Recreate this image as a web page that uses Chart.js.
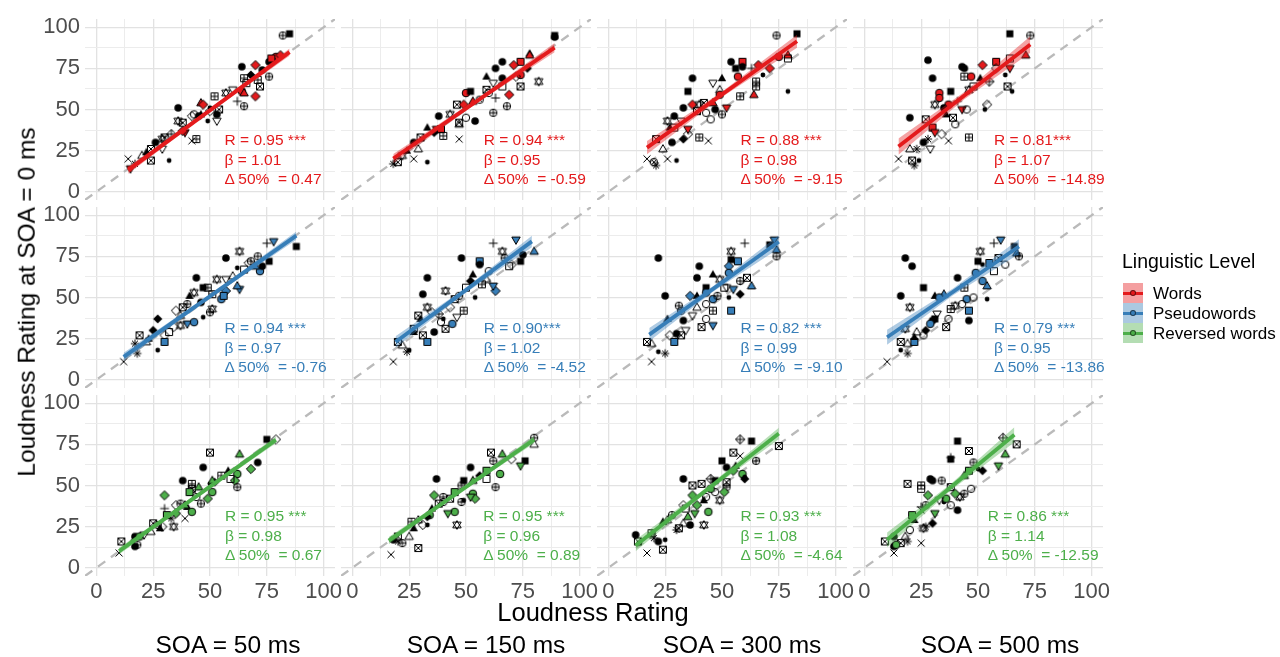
<!DOCTYPE html>
<html>
<head>
<meta charset="utf-8">
<script src="https://cdn.jsdelivr.net/npm/chart.js@4.4.1/dist/chart.umd.min.js"></script>
<style>
  body { margin: 0; width: 1280px; height: 657px; position: relative; overflow: hidden; background: #fff;
         font-family: 'Liberation Sans', Arial, Helvetica, sans-serif; }
  canvas { position: absolute; }
  .txt { position: absolute; white-space: pre; line-height: 1; }
  .key { position: absolute; width: 20px; height: 20px; }
  .key .ln { position: absolute; left: 0; right: 0; top: 9px; height: 2.5px; }
  .key .dot { position: absolute; left: 7px; top: 7px; width: 6px; height: 6px; border-radius: 50%;
              box-sizing: border-box; border: 1px solid rgba(0,0,0,0.55); }
</style>
</head>
<body>
<script>
// ---- facets ----
const soaLabels = ['SOA = 50 ms', 'SOA = 150 ms', 'SOA = 300 ms', 'SOA = 500 ms'];
const levelNames = ['Words', 'Pseudowords', 'Reversed words'];
const levelColors = [[228, 26, 28], [55, 126, 184], [77, 175, 74]];
const axisTicks = [0, 12.5, 25, 37.5, 50, 62.5, 75, 87.5, 100];

// ---- ratings: [rating at SOA, rating at SOA = 0, marker] ----
// markers: c/sc/s/t/d = solid black, C/S/D/T/V = filled with level colour,
// oc/os/ot/od/ov = open, p/x/a = plus/cross/asterisk, sx/sp/cp/cx/dp/st = combined
const words50 = [[82,95,'cp'],[85,96,'s'],[79,82,'C'],[81,83,'D'],[76,79,'c'],[78,80,'sc'],[77,81,'S'],[64,76,'c'],[70,77,'D'],[73,74,'c'],[76,70,'cp'],[65,69,'sp'],[71,68,'sp'],[72,64,'sx'],[68,71,'d'],[70,58,'D'],[64,61,'C'],[65,60,'T'],[66,66,'os'],[52,58,'sp'],[62,55,'p'],[65,52,'cp'],[46,54,'T'],[47,53,'D'],[50,51,'sc'],[54,50,'sx'],[50,49,'od'],[53,47,'c'],[36,51,'c'],[36,43,'st'],[42,46,'od'],[38,42,'sx'],[53,43,'ov'],[49,43,'sc'],[45,46,'c'],[43,47,'oc'],[46,47,'t'],[39,36,'V'],[38,37,'D'],[44,32,'sp'],[42,31,'x'],[26,30,'c'],[30,33,'sx'],[29,32,'st'],[29,26,'ov'],[24,26,'sx'],[24,19,'sx'],[14,20,'x'],[32,19,'sc'],[15,14,'V'],[17,17,'a'],[20,22,'ot'],[22,24,'t'],[33,35,'dp'],[57,60,'st'],[60,62,'ov']];
const words150 = [[89,95,'s'],[89,94,'c'],[78,84,'t'],[78,83,'T'],[74,79,'S'],[71,77,'D'],[66,79,'c'],[63,75,'c'],[66,69,'c'],[74,71,'C'],[82,67,'st'],[74,64,'sx'],[59,70,'t'],[62,66,'ov'],[59,62,'sx'],[63,57,'p'],[68,52,'cp'],[62,48,'cp'],[69,59,'D'],[50,60,'C'],[52,61,'s'],[46,53,'sx'],[49,53,'D'],[53,55,'T'],[54,43,'c'],[50,45,'oc'],[47,42,'sx'],[38,46,'c'],[33,39,'t'],[37,38,'V'],[39,38,'S'],[40,34,'sp'],[47,32,'x'],[27,30,'c'],[30,33,'sx'],[29,26,'ot'],[27,20,'x'],[33,18,'sc'],[18,17,'a'],[20,18,'sx'],[77,75,'d'],[72,70,'od'],[43,47,'st'],[47,41,'ot'],[66,64,'os'],[56,56,'cx'],[60,60,'oc'],[36,36,'d'],[24,25,'t'],[22,22,'st']];
const words300 = [[74,95,'cp'],[83,96,'s'],[79,83,'T'],[79,81,'os'],[75,82,'C'],[54,79,'c'],[59,79,'S'],[56,75,'s'],[59,76,'c'],[57,70,'C'],[63,75,'p'],[66,77,'D'],[71,75,'D'],[68,71,'sc'],[65,67,'sp'],[65,64,'sp'],[37,69,'c'],[50,69,'t'],[46,66,'ov'],[49,62,'ot'],[49,59,'C'],[35,61,'s'],[79,61,'sc'],[64,59,'T'],[58,58,'sp'],[37,53,'D'],[33,51,'c'],[46,54,'T'],[42,54,'sx'],[52,51,'V'],[47,50,'c'],[40,53,'st'],[50,47,'cp'],[45,44,'oc'],[39,49,'sx'],[35,35,'od'],[29,46,'c'],[26,43,'st'],[27,39,'t'],[35,38,'V'],[40,33,'sp'],[44,31,'x'],[21,32,'sx'],[28,30,'c'],[24,26,'ot'],[17,20,'x'],[26,20,'x'],[20,18,'cx'],[30,19,'sc'],[21,16,'a'],[32,43,'ov'],[33,32,'d'],[29,39,'os'],[43,48,'oc']];
const words500 = [[64,96,'s'],[73,95,'cp'],[28,80,'c'],[30,69,'c'],[43,76,'c'],[44,75,'c'],[44,70,'sp'],[52,77,'D'],[58,79,'S'],[64,81,'os'],[71,83,'T'],[64,75,'V'],[58,75,'od'],[62,71,'sc'],[47,70,'C'],[51,69,'t'],[38,61,'s'],[33,60,'C'],[33,57,'C'],[46,62,'st'],[63,64,'sx'],[65,61,'sc'],[31,53,'st'],[37,53,'C'],[35,51,'c'],[43,50,'V'],[54,53,'od'],[53,50,'sc'],[45,50,'oc'],[39,45,'sx'],[40,41,'oc'],[20,45,'c'],[27,44,'sx'],[30,39,'S'],[31,36,'V'],[34,35,'od'],[37,31,'x'],[46,33,'sp'],[26,30,'c'],[28,32,'a'],[29,26,'ov'],[23,26,'a'],[20,26,'ot'],[15,20,'x'],[21,19,'sx'],[22,16,'a'],[24,19,'sc'],[48,64,'os'],[41,55,'p'],[36,47,'t'],[55,67,'dp']];

const pseudo50 = [[88,81,'s'],[78,84,'V'],[75,83,'p'],[63,78,'st'],[57,74,'c'],[68,72,'cp'],[71,75,'cp'],[67,71,'od'],[76,72,'s'],[72,66,'C'],[73,69,'c'],[70,69,'T'],[62,68,'sc'],[65,67,'os'],[44,62,'c'],[53,61,'st'],[57,61,'ov'],[47,56,'s'],[49,56,'sp'],[63,55,'V'],[62,57,'T'],[57,54,'D'],[55,49,'C'],[56,51,'S'],[41,51,'t'],[43,53,'st'],[51,52,'sp'],[50,41,'cp'],[51,43,'st'],[47,38,'sc'],[35,42,'od'],[38,44,'sx'],[27,37,'d'],[40,34,'V'],[43,35,'C'],[37,33,'st'],[37,39,'ot'],[30,27,'od'],[25,30,'d'],[30,23,'S'],[19,27,'sx'],[18,16,'a'],[27,18,'sc'],[12,11,'x'],[22,23,'ot'],[17,22,'a'],[34,32,'od'],[40,46,'cp'],[23,25,'t'],[32,29,'os'],[46,47,'c'],[60,63,'ot']];
const pseudo150 = [[62,83,'p'],[72,85,'V'],[66,78,'st'],[56,72,'S'],[56,70,'c'],[48,74,'c'],[74,72,'s'],[80,78,'T'],[67,74,'cp'],[69,69,'os'],[33,62,'c'],[41,54,'st'],[53,64,'t'],[50,56,'os'],[63,54,'D'],[62,57,'V'],[31,52,'c'],[54,50,'sc'],[45,49,'sx'],[33,44,'st'],[29,39,'sx'],[35,41,'od'],[43,44,'od'],[49,42,'sp'],[46,38,'ov'],[40,37,'sc'],[41,31,'sx'],[44,34,'C'],[30,37,'t'],[27,31,'sx'],[36,29,'c'],[31,27,'sx'],[33,23,'S'],[20,23,'sx'],[24,17,'a'],[25,18,'sc'],[18,11,'x'],[22,21,'ot'],[47,51,'cp'],[39,35,'oc'],[27,29,'t'],[59,61,'ot'],[52,60,'d'],[57,58,'sp'],[70,70,'od'],[38,40,'dp'],[75,76,'c'],[60,66,'oc']];
const pseudo300 = [[60,83,'p'],[73,85,'V'],[71,82,'s'],[74,79,'T'],[74,75,'cp'],[54,78,'st'],[54,73,'s'],[57,72,'S'],[22,74,'c'],[53,69,'D'],[53,65,'C'],[40,69,'c'],[39,62,'c'],[46,64,'t'],[49,61,'st'],[52,56,'ov'],[58,60,'cp'],[63,57,'T'],[55,55,'V'],[25,51,'c'],[43,56,'s'],[36,51,'D'],[39,51,'t'],[43,53,'C'],[46,49,'C'],[48,51,'cp'],[43,46,'oc'],[53,50,'sc'],[46,42,'sp'],[54,42,'S'],[31,45,'cp'],[32,42,'cp'],[26,37,'t'],[33,36,'c'],[37,39,'ov'],[43,37,'oc'],[46,33,'V'],[41,32,'sx'],[27,27,'od'],[30,28,'c'],[29,23,'S'],[19,22,'ot'],[25,16,'a'],[19,11,'x'],[17,23,'sx'],[32,27,'sx'],[22,17,'sc'],[34,30,'ov'],[51,56,'os'],[58,52,'d'],[39,44,'ot'],[61,62,'sx']];
const pseudo500 = [[57,83,'p'],[60,85,'V'],[66,81,'s'],[67,77,'T'],[68,75,'cp'],[51,78,'st'],[59,74,'sx'],[18,74,'c'],[21,69,'c'],[50,72,'s'],[52,70,'sc'],[55,71,'S'],[49,65,'C'],[26,56,'s'],[41,62,'c'],[54,57,'T'],[52,60,'C'],[16,51,'c'],[31,51,'t'],[35,52,'T'],[33,50,'C'],[44,56,'sp'],[45,49,'C'],[43,46,'oc'],[48,50,'oc'],[54,49,'sc'],[20,44,'st'],[38,43,'sp'],[46,42,'S'],[46,36,'c'],[37,37,'oc'],[31,37,'s'],[30,36,'c'],[18,31,'st'],[36,32,'sx'],[29,34,'C'],[23,29,'ot'],[22,23,'S'],[26,27,'oc'],[19,22,'ot'],[16,18,'sc'],[19,16,'a'],[10,11,'x'],[16,23,'sx'],[22,26,'t'],[32,40,'ov'],[40,45,'st'],[27,30,'d'],[57,66,'os'],[62,70,'oc']];

const reversed50 = [[75,78,'s'],[79,78,'od'],[71,64,'c'],[63,69,'T'],[50,70,'sx'],[47,61,'c'],[62,57,'C'],[61,53,'D'],[62,49,'cp'],[59,54,'os'],[38,53,'c'],[42,51,'sp'],[42,48,'sx'],[41,46,'S'],[30,44,'D'],[50,51,'sc'],[52,52,'d'],[51,53,'T'],[51,46,'C'],[49,42,'D'],[37,39,'cp'],[35,38,'od'],[46,39,'cp'],[40,37,'t'],[39,38,'T'],[30,36,'p'],[31,32,'S'],[42,34,'C'],[35,33,'D'],[39,30,'x'],[34,25,'st'],[29,25,'od'],[28,24,'t'],[11,16,'sx'],[17,19,'c'],[17,13,'c'],[18,14,'cp'],[24,22,'ot'],[10,9,'x'],[19,19,'C'],[16,16,'sc'],[27,26,'oc'],[45,49,'T'],[68,60,'D'],[55,56,'sp'],[21,20,'ov'],[25,27,'sx'],[58,59,'t'],[44,43,'oc'],[33,30,'a']];
const reversed150 = [[80,79,'cp'],[80,75,'ot'],[61,70,'sx'],[62,65,'cp'],[66,69,'T'],[76,65,'s'],[74,62,'V'],[59,59,'S'],[65,57,'C'],[52,61,'c'],[63,49,'cp'],[37,54,'c'],[49,53,'s'],[48,50,'cp'],[45,46,'S'],[53,53,'T'],[36,44,'D'],[43,42,'sx'],[53,45,'C'],[54,42,'D'],[52,43,'V'],[49,41,'sc'],[48,40,'cp'],[45,34,'C'],[42,33,'V'],[38,39,'sx'],[35,36,'t'],[46,26,'st'],[26,28,'sp'],[29,29,'ot'],[31,26,'od'],[33,26,'sc'],[29,12,'sx'],[18,17,'c'],[22,15,'cp'],[17,8,'x'],[20,19,'sx'],[25,19,'ot'],[34,32,'C'],[33,31,'d'],[40,43,'cp'],[59,54,'os'],[56,56,'d'],[70,66,'od'],[20,16,'a'],[27,24,'t'],[40,40,'oc']];
const reversed300 = [[58,78,'dp'],[63,77,'s'],[75,74,'sx'],[55,70,'sx'],[58,68,'x'],[50,65,'s'],[52,61,'c'],[55,59,'D'],[65,65,'cp'],[59,57,'C'],[60,55,'sc'],[33,54,'c'],[37,50,'sx'],[41,51,'sx'],[45,54,'dp'],[47,53,'s'],[52,49,'cp'],[52,52,'sx'],[37,44,'D'],[43,43,'oc'],[51,46,'D'],[33,38,'od'],[38,33,'V'],[44,34,'C'],[49,41,'st'],[42,41,'t'],[42,26,'st'],[36,26,'c'],[33,27,'ot'],[30,23,'a'],[31,24,'sx'],[26,29,'ot'],[24,28,'t'],[19,21,'sp'],[12,20,'c'],[13,16,'sx'],[22,16,'c'],[25,17,'sc'],[24,11,'sx'],[17,9,'x'],[35,31,'T'],[60,54,'d'],[34,36,'os'],[39,38,'D'],[47,46,'oc'],[28,32,'cp'],[20,18,'a'],[56,62,'t'],[45,48,'C']];
const reversed500 = [[41,77,'s'],[61,79,'dp'],[67,75,'sx'],[62,69,'T'],[59,62,'V'],[38,67,'p'],[38,66,'s'],[46,71,'sx'],[48,64,'cp'],[29,54,'c'],[30,53,'c'],[34,53,'cp'],[19,51,'sx'],[25,50,'sp'],[25,48,'os'],[46,59,'S'],[50,60,'sc'],[28,44,'D'],[42,43,'st'],[38,49,'sx'],[47,48,'oc'],[40,45,'D'],[38,38,'oc'],[41,35,'c'],[31,33,'V'],[27,38,'cp'],[35,40,'sc'],[25,37,'p'],[25,35,'x'],[21,32,'S'],[22,29,'t'],[27,25,'a'],[26,24,'st'],[30,27,'d'],[25,15,'x'],[9,16,'sx'],[13,19,'c'],[13,13,'c'],[16,15,'sx'],[13,9,'x'],[19,16,'a'],[18,19,'ot'],[14,14,'C'],[44,56,'T'],[36,42,'C'],[33,41,'ov'],[44,45,'cp'],[20,23,'oc'],[52,59,'d']];

const panelPoints = [
  [words50, words150, words300, words500],
  [pseudo50, pseudo150, pseudo300, pseudo500],
  [reversed50, reversed150, reversed300, reversed500]
];

// ---- fit statistics per facet (rows = level, cols = SOA) ----
const rTexts = [['0.95 ***', '0.94 ***', '0.88 ***', '0.81***'],
                ['0.94 ***', '0.90***', '0.82 ***', '0.79 ***'],
                ['0.95 ***', '0.95 ***', '0.93 ***', '0.86 ***']];
const betas = [[1.01, 0.95, 0.98, 1.07], [0.97, 1.02, 0.99, 0.95], [0.98, 0.96, 1.08, 1.14]];
const deltas = [[0.47, -0.59, -9.15, -14.89], [-0.76, -4.52, -9.10, -13.86], [0.67, 0.89, -4.64, -12.59]];
const fitRanges = [[[14, 85], [18, 89], [17, 83], [15, 73]],
                   [[12, 88], [19, 79], [18, 75], [10, 68]],
                   [[10, 79], [16, 80], [12, 75], [10, 66]]];
// confidence band half-width: [at the ends, at the centre]
const bandHalf = [[[2.2, 1.0], [2.8, 1.2], [4.0, 1.6], [5.0, 2.2]],
                  [[2.5, 1.0], [3.5, 1.5], [4.0, 1.7], [4.5, 2.0]],
                  [[2.0, 0.9], [2.2, 1.0], [3.5, 1.4], [4.5, 2.0]]];
const statX = [[56.4, 57.8, 58.1, 57.0], [56.4, 57.8, 58.1, 57.0], [56.6, 57.6, 58.1, 54.3]];
const statY = [31.5, 19.5, 7.8];

// ---- layout (px) ----
const PANEL_W = 250, PANEL_H = 181, COL_STEP = 256, ROW_STEP = 188, LEFT0 = 85, TOP0 = 19;
const MARGIN = 20, Y_ROOM = 60, X_ROOM = 40;
const FONT = "'Liberation Sans', Arial, Helvetica, sans-serif";

function rgba(rgb, a) { return 'rgba(' + rgb[0] + ',' + rgb[1] + ',' + rgb[2] + ',' + a + ')'; }

// marker sprites, cached by code + colour
const spriteCache = {};
function sprite(code, rgb) {
  const key = code + rgb.join(',');
  if (spriteCache[key]) return spriteCache[key];
  const cv = document.createElement('canvas');
  cv.width = cv.height = 16;
  const g = cv.getContext('2d');
  g.translate(8, 8);
  g.lineWidth = 1;
  g.strokeStyle = '#000';
  g.fillStyle = '#000';
  const circle = (r) => { g.beginPath(); g.arc(0, 0, r, 0, Math.PI * 2); };
  const square = () => { g.beginPath(); g.rect(-3.5, -3.5, 7, 7); };
  const up = () => { g.beginPath(); g.moveTo(0, -4.4); g.lineTo(4.2, 2.9); g.lineTo(-4.2, 2.9); g.closePath(); };
  const down = () => { g.beginPath(); g.moveTo(0, 4.4); g.lineTo(4.2, -2.9); g.lineTo(-4.2, -2.9); g.closePath(); };
  const diamond = () => { g.beginPath(); g.moveTo(0, -4.6); g.lineTo(4.6, 0); g.lineTo(0, 4.6); g.lineTo(-4.6, 0); g.closePath(); };
  const plus = (r) => { g.beginPath(); g.moveTo(-r, 0); g.lineTo(r, 0); g.moveTo(0, -r); g.lineTo(0, r); g.stroke(); };
  const cross = (r) => { g.beginPath(); g.moveTo(-r, -r); g.lineTo(r, r); g.moveTo(-r, r); g.lineTo(r, -r); g.stroke(); };
  const filled = (fn) => { fn(); g.fillStyle = rgba(rgb, 1); g.fill(); g.stroke(); };
  switch (code) {
    case 'c': circle(3.8); g.fill(); break;
    case 'sc': circle(2.4); g.fill(); break;
    case 's': square(); g.fill(); break;
    case 't': up(); g.fill(); break;
    case 'd': diamond(); g.fill(); break;
    case 'C': filled(() => circle(3.8)); break;
    case 'S': filled(square); break;
    case 'D': filled(diamond); break;
    case 'T': filled(up); break;
    case 'V': filled(down); break;
    case 'oc': circle(3.7); g.stroke(); break;
    case 'os': square(); g.stroke(); break;
    case 'ot': up(); g.stroke(); break;
    case 'od': diamond(); g.stroke(); break;
    case 'ov': down(); g.stroke(); break;
    case 'p': plus(4.4); break;
    case 'x': cross(3.5); break;
    case 'a': plus(4.2); cross(3); break;
    case 'sx': square(); g.stroke(); cross(3.5); break;
    case 'sp': square(); g.stroke(); plus(3.5); break;
    case 'cp': circle(3.7); g.stroke(); plus(3.7); break;
    case 'cx': circle(3.7); g.stroke(); cross(2.6); break;
    case 'dp': diamond(); g.stroke(); plus(4.6); break;
    case 'st': up(); g.stroke(); down(); g.stroke(); break;
  }
  spriteCache[key] = cv;
  return cv;
}

function addText(str, left, top, size, color, extra) {
  const el = document.createElement('div');
  el.className = 'txt';
  el.textContent = str;
  el.style.left = left + 'px';
  el.style.top = top + 'px';
  el.style.fontSize = size + 'px';
  el.style.color = color;
  if (extra) Object.assign(el.style, extra);
  document.body.appendChild(el);
  return el;
}

const isMajor = (ctx) => ctx.tick && ctx.tick.value % 25 === 0;
const gridOpts = {
  color: (ctx) => isMajor(ctx) ? '#e2e2e2' : '#ececec',
  lineWidth: (ctx) => isMajor(ctx) ? 1.3 : 1,
  drawTicks: false
};

function buildPanel(r, c) {
  const rgb = levelColors[r];
  const beta = betas[r][c], delta = deltas[r][c];
  const [x1, x2] = fitRanges[r][c];
  const [endHalf, midHalf] = bandHalf[r][c];
  const fit = (x) => 50 - delta + beta * (x - 50);
  const bandX = [x1, (x1 + x2) / 2, x2];
  const bandW = [endHalf, midHalf, endHalf];

  const yRoom = c === 0 ? Y_ROOM : 0;
  const xRoom = r === 2 ? X_ROOM : 0;
  const cv = document.createElement('canvas');
  const left = LEFT0 + c * COL_STEP - MARGIN - yRoom;
  const top = TOP0 + r * ROW_STEP - MARGIN;
  cv.width = PANEL_W + 2 * MARGIN + yRoom;
  cv.height = PANEL_H + 2 * MARGIN + xRoom;
  cv.style.left = left + 'px';
  cv.style.top = top + 'px';
  document.body.appendChild(cv);

  const tickFont = { family: FONT, size: 22 };
  const chart = new Chart(cv, {
    type: 'scatter',
    data: {
      datasets: [
        { // fitted line
          data: [{ x: x1, y: fit(x1) }, { x: x2, y: fit(x2) }],
          showLine: true, borderColor: rgba(rgb, 1), borderWidth: 3.8, pointRadius: 0, order: 0
        },
        { // band upper edge, filled down to the next dataset
          data: bandX.map((x, i) => ({ x: x, y: fit(x) + bandW[i] })),
          showLine: true, borderWidth: 0, pointRadius: 0, fill: '+1',
          backgroundColor: rgba(rgb, 0.4), order: 1
        },
        { // band lower edge
          data: bandX.map((x, i) => ({ x: x, y: fit(x) - bandW[i] })),
          showLine: true, borderWidth: 0, pointRadius: 0, fill: false, order: 2
        },
        { // ratings
          data: panelPoints[r][c].map(p => ({ x: p[0], y: p[1], k: p[2] })),
          pointRadius: 4,
          pointStyle: (ctx) => ctx.raw ? sprite(ctx.raw.k, rgb) : 'circle',
          order: 3
        },
        { // identity line
          data: [{ x: -5, y: -5 }, { x: 105, y: 105 }],
          showLine: true, borderColor: '#bababa', borderWidth: 2.3, borderDash: [9, 7],
          pointRadius: 0, order: 4
        }
      ]
    },
    options: {
      responsive: false,
      animation: false,
      devicePixelRatio: 1,
      layout: { padding: MARGIN, autoPadding: false },
      plugins: { legend: { display: false }, tooltip: { enabled: false } },
      scales: {
        x: {
          type: 'linear', min: -5, max: 105,
          afterBuildTicks: (s) => { s.ticks = axisTicks.map(v => ({ value: v })); },
          afterFit: (s) => { s.height = xRoom; },
          grid: gridOpts,
          border: { display: false },
          ticks: {
            display: r === 2, autoSkip: false, maxRotation: 0, padding: 3,
            color: '#4d4d4d', font: tickFont,
            callback: (v) => v % 25 === 0 ? String(v) : ''
          }
        },
        y: {
          type: 'linear', min: -5, max: 105,
          afterBuildTicks: (s) => { s.ticks = axisTicks.map(v => ({ value: v })); },
          afterFit: (s) => { s.width = yRoom; },
          grid: gridOpts,
          border: { display: false },
          ticks: {
            display: c === 0, autoSkip: false, padding: 5,
            color: '#4d4d4d', font: tickFont,
            callback: (v) => v % 25 === 0 ? String(v) : ''
          }
        }
      }
    }
  });

  // statistics text, placed through the panel's scales
  const col = rgba(rgb, 1);
  const tx = left + chart.scales.x.getPixelForValue(statX[r][c]);
  const lines = ['R = ' + rTexts[r][c], 'β = ' + beta.toFixed(2), 'Δ 50%  = ' + delta.toFixed(2)];
  lines.forEach((s, i) => {
    const ty = top + chart.scales.y.getPixelForValue(statY[i]);
    addText(s, tx, ty - 8, 15.5, col);
  });
}

for (let r = 0; r < 3; r++) {
  for (let c = 0; c < 4; c++) buildPanel(r, c);
}

// axis titles
addText('Loudness Rating', 593, 613, 25.5, '#000', { transform: 'translate(-50%, -50%)' });
addText('Loudness Rating at SOA = 0 ms', 27, 302, 24.5, '#000',
        { transform: 'translate(-50%, -50%) rotate(-90deg)' });
const soaCentres = [228, 486, 742, 1000];
soaLabels.forEach((s, i) => addText(s, soaCentres[i], 645, 24.5, '#000', { transform: 'translate(-50%, -50%)' }));

// legend
addText('Linguistic Level', 1122, 252, 19.5, '#000');
levelNames.forEach((name, i) => {
  const rgb = levelColors[i];
  const key = document.createElement('div');
  key.className = 'key';
  key.style.left = '1123px';
  key.style.top = (283 + 20 * i) + 'px';
  key.style.background = rgba(rgb, 0.42);
  const ln = document.createElement('div');
  ln.className = 'ln';
  ln.style.background = rgba(rgb, 1);
  const dot = document.createElement('div');
  dot.className = 'dot';
  dot.style.background = rgba(rgb, 1);
  key.appendChild(ln);
  key.appendChild(dot);
  document.body.appendChild(key);
  addText(name, 1153, 293 + 20 * i, 17, '#000', { transform: 'translateY(-50%)' });
});
</script>
</body>
</html>
